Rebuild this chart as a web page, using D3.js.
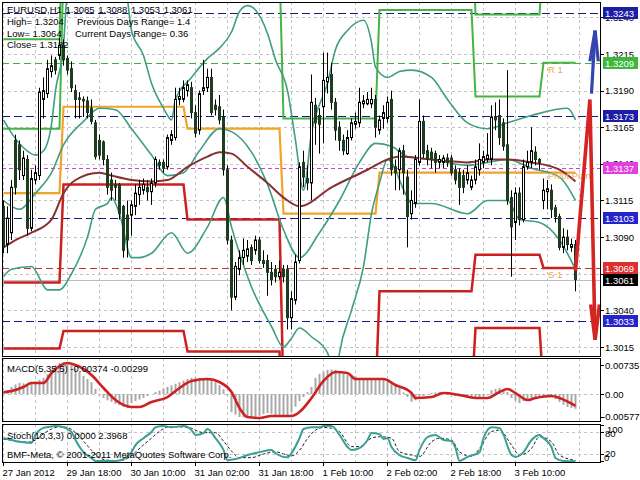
<!DOCTYPE html>
<html><head><meta charset="utf-8">
<script src="https://cdn.jsdelivr.net/npm/d3@7"></script>
<style>
body{margin:0;background:#fff}
svg{display:block}
text{font-family:"Liberation Sans",Arial,sans-serif;font-size:9.5px}
</style>
</head><body>
<svg id="c" width="640" height="480"></svg>
<script>
// ---------- DATA ----------
const opens=[1.3111,1.3085,1.3093,1.3156,1.3153,1.3132,1.3143,1.3096,1.3129,1.3132,
1.3184,1.3188,1.3203,1.3211,1.3214,1.3221,1.3212,1.3205,1.3190,1.3185,
1.3184,1.3183,1.3178,1.3168,1.3156,1.3155,1.3143,1.3129,1.3126,1.3126,
1.3111,1.3105,1.3105,1.3111,1.3119,1.3122,1.3124,1.3121,1.3127,1.3141,
1.3141,1.3138,1.3156,1.3158,1.3184,1.3184,1.3190,1.3192,1.3175,1.3163,
1.3190,1.3192,1.3199,1.3180,1.3179,1.3172,1.3136,1.3088,1.3049,1.3068,
1.3076,1.3077,1.3083,1.3081,1.3088,1.3074,1.3074,1.3066,1.3068,1.3063,
1.3068,1.3068,1.3035,1.3047,1.3074,1.3141,1.3130,1.3127,1.3180,1.3173,
1.3179,1.3196,1.3201,1.3182,1.3165,1.3156,1.3147,1.3158,1.3167,1.3168,
1.3181,1.3181,1.3181,1.3184,1.3163,1.3171,1.3171,1.3184,1.3138,1.3136,
1.3149,1.3131,1.3106,1.3113,1.3141,1.3169,1.3149,1.3148,1.3147,1.3141,
1.3141,1.3144,1.3144,1.3136,1.3134,1.3132,1.3129,1.3124,1.3129,1.3136,
1.3141,1.3143,1.3143,1.3172,1.3173,1.3168,1.3153,1.3117,1.3100,1.3120,
1.3102,1.3138,1.3141,1.3148,1.3143,1.3115,1.3121,1.3122,1.3110,1.3104,
1.3083,1.3090,1.3083,1.3085];
const highs=[1.3115,1.3111,1.3129,1.3160,1.3156,1.3149,1.3146,1.3136,1.3139,1.3192,
1.3199,1.3211,1.3214,1.3213,1.3226,1.3225,1.3214,1.3210,1.3194,1.3189,
1.3186,1.3186,1.3184,1.3170,1.3160,1.3156,1.3146,1.3134,1.3129,1.3127,
1.3112,1.3115,1.3115,1.3126,1.3129,1.3130,1.3129,1.3130,1.3145,1.3143,
1.3143,1.3160,1.3163,1.3192,1.3192,1.3197,1.3197,1.3196,1.3180,1.3190,
1.3211,1.3205,1.3205,1.3184,1.3187,1.3177,1.3139,1.3091,1.3073,1.3081,
1.3089,1.3088,1.3085,1.3091,1.3090,1.3081,1.3078,1.3073,1.3071,1.3074,
1.3071,1.3071,1.3053,1.3078,1.3141,1.3149,1.3139,1.3201,1.3185,1.3178,
1.3216,1.3216,1.3209,1.3185,1.3169,1.3160,1.3163,1.3171,1.3175,1.3192,
1.3187,1.3189,1.3192,1.3187,1.3173,1.3180,1.3186,1.3190,1.3143,1.3151,
1.3153,1.3136,1.3122,1.3146,1.3184,1.3173,1.3153,1.3151,1.3149,1.3146,
1.3146,1.3147,1.3146,1.3139,1.3137,1.3136,1.3139,1.3132,1.3143,1.3154,
1.3149,1.3161,1.3180,1.3182,1.3184,1.3171,1.3204,1.3122,1.3124,1.3124,
1.3143,1.3149,1.3165,1.3152,1.3144,1.3130,1.3129,1.3126,1.3112,1.3106,
1.3096,1.3095,1.3089,1.3088];
const lows=[1.3079,1.3079,1.3088,1.3119,1.3129,1.3129,1.3091,1.3094,1.3126,1.3129,
1.3171,1.3185,1.3199,1.3201,1.3211,1.3207,1.3201,1.3189,1.3171,1.3171,
1.3172,1.3171,1.3167,1.3143,1.3143,1.3139,1.3119,1.3115,1.3115,1.3102,
1.3076,1.3076,1.3091,1.3105,1.3112,1.3119,1.3115,1.3112,1.3124,1.3136,
1.3134,1.3136,1.3153,1.3156,1.3180,1.3182,1.3186,1.3171,1.3158,1.3160,
1.3187,1.3189,1.3173,1.3173,1.3167,1.3132,1.3085,1.3040,1.3047,1.3064,
1.3071,1.3073,1.3071,1.3078,1.3072,1.3069,1.3050,1.3057,1.3059,1.3061,
1.3059,1.3027,1.3027,1.3044,1.3072,1.3124,1.3122,1.3115,1.3153,1.3147,
1.3154,1.3188,1.3177,1.3156,1.3149,1.3146,1.3146,1.3156,1.3164,1.3165,
1.3178,1.3180,1.3178,1.3158,1.3160,1.3164,1.3168,1.3132,1.3122,1.3122,
1.3119,1.3083,1.3102,1.3110,1.3139,1.3144,1.3139,1.3137,1.3134,1.3137,
1.3137,1.3138,1.3132,1.3126,1.3112,1.3120,1.3126,1.3122,1.3126,1.3132,
1.3137,1.3141,1.3139,1.3163,1.3153,1.3149,1.3112,1.3063,1.3088,1.3098,
1.3100,1.3136,1.3137,1.3139,1.3136,1.3109,1.3109,1.3103,1.3100,1.3081,
1.3079,1.3081,1.3080,1.3053];
const closes=[1.3083,1.3103,1.3124,1.3124,1.3136,1.3144,1.3096,1.3130,1.3134,1.3189,
1.3190,1.3205,1.3207,1.3204,1.3221,1.3211,1.3204,1.3192,1.3184,1.3184,
1.3183,1.3175,1.3169,1.3145,1.3146,1.3143,1.3124,1.3122,1.3124,1.3106,
1.3081,1.3088,1.3112,1.3120,1.3124,1.3126,1.3121,1.3127,1.3143,1.3139,
1.3137,1.3158,1.3160,1.3184,1.3186,1.3192,1.3194,1.3175,1.3161,1.3188,
1.3192,1.3199,1.3175,1.3177,1.3170,1.3136,1.3088,1.3049,1.3070,1.3076,
1.3081,1.3082,1.3074,1.3088,1.3074,1.3072,1.3066,1.3061,1.3063,1.3066,
1.3063,1.3035,1.3048,1.3073,1.3138,1.3131,1.3127,1.3182,1.3168,1.3167,
1.3197,1.3199,1.3182,1.3163,1.3156,1.3149,1.3158,1.3168,1.3169,1.3182,
1.3183,1.3184,1.3184,1.3165,1.3170,1.3175,1.3182,1.3136,1.3134,1.3149,
1.3134,1.3104,1.3115,1.3143,1.3169,1.3147,1.3143,1.3143,1.3141,1.3143,
1.3144,1.3141,1.3134,1.3129,1.3124,1.3124,1.3134,1.3129,1.3138,1.3143,
1.3145,1.3146,1.3172,1.3170,1.3158,1.3152,1.3115,1.3097,1.3120,1.3102,
1.3138,1.3141,1.3149,1.3143,1.3141,1.3122,1.3123,1.3109,1.3104,1.3083,
1.3090,1.3085,1.3085,1.3061];

// Bollinger bands & moving average, read at sample bars [bar, price]
const bbUpper=[[0,1.3170],[2,1.3161],[5,1.3151],[8,1.3146],[10,1.3149],[12,1.3167],[13,1.3190],[15,1.3221],[16,1.3259],[20,1.3290],[25,1.3300],[29,1.3275],[31,1.3252],[32,1.3231],[35,1.3214],[37,1.3195],[40,1.3178],[42,1.3170],[43,1.3184],[47,1.3199],[51,1.3212],[54,1.3219],[57,1.3230],[59,1.3244],[61,1.3248],[63,1.3245],[66,1.3229],[68,1.3211],[71,1.3190],[73,1.3156],[75,1.3122],[77,1.3161],[81,1.3195],[83,1.3218],[86,1.3231],[90,1.3238],[92,1.3223],[93,1.3206],[96,1.3199],[99,1.3203],[102,1.3204],[107,1.3199],[111,1.3184],[116,1.3168],[121,1.3164],[126,1.3168],[132,1.3173],[141,1.3178],[143,1.3170]];
const bbMiddle=[[0,1.3115],[4,1.3109],[8,1.3120],[12,1.3134],[15,1.3153],[20,1.3169],[24,1.3178],[28,1.3177],[32,1.3164],[37,1.3146],[41,1.3132],[45,1.3134],[49,1.3149],[54,1.3164],[57,1.3162],[62,1.3148],[66,1.3126],[70,1.3095],[74,1.3076],[79,1.3093],[84,1.3115],[89,1.3141],[93,1.3154],[97,1.3152],[101,1.3145],[107,1.3143],[116,1.3139],[121,1.3141],[126,1.3143],[132,1.3137],[139,1.3131],[143,1.3115]];
const bbLower=[[0,1.3063],[2,1.3068],[7,1.3070],[11,1.3054],[14,1.3054],[17,1.3065],[21,1.3090],[23,1.3109],[26,1.3113],[27,1.3117],[29,1.3106],[32,1.3076],[34,1.3076],[37,1.3079],[42,1.3093],[46,1.3079],[51,1.3097],[55,1.3117],[57,1.3097],[62,1.3056],[67,1.3029],[70,1.3015],[72,1.3021],[74,1.3028],[77,1.3022],[81,1.3011],[83,1.2992],[84,1.3011],[87,1.3040],[90,1.3070],[92,1.3106],[94,1.3127],[96,1.3143],[101,1.3117],[102,1.3113],[107,1.3113],[116,1.3106],[121,1.3115],[126,1.3115],[129,1.3102],[134,1.3100],[139,1.3088],[143,1.3068]];
const maLine=[[0,1.3083],[3,1.3088],[7,1.3093],[12,1.3102],[15,1.3120],[18,1.3129],[24,1.3134],[27,1.3132],[32,1.3129],[37,1.3128],[41,1.3129],[46,1.3138],[51,1.3145],[54,1.3148],[57,1.3147],[61,1.3138],[66,1.3127],[70,1.3117],[74,1.3111],[82,1.3124],[91,1.3136],[96,1.3143],[99,1.3145],[107,1.3143],[116,1.3141],[121,1.3143],[126,1.3143],[132,1.3141],[139,1.3136],[143,1.3128]];

// Daily pivot levels (first bar of each day)
const dayStart=[0,15,46,70,94,118,135,144];
const pivotP=[1.3120,1.3179,1.3164,1.3106,1.3134,1.3134,1.3134];
const pivotR1=[1.3164,1.3275,1.3275,1.3171,1.3245,1.3186,1.3209];
const pivotR2=[1.3225,1.3330,1.3330,1.3280,1.3320,1.3242,1.3280];
const pivotS1=[1.3059,1.3126,1.3102,1.2980,1.3053,1.3078,1.3069];
const pivotS2=[1.3014,1.3026,1.3012,1.2940,1.2980,1.3028,1.2985];

// Horizontal level lines
const navyLevels=[1.3243,1.3173,1.3103,1.3033];
const r1Level=1.3209, pivotLevel=1.3137, s1Level=1.3069, bidLevel=1.3061;

// Arrows drawn on chart [bar, price]
const redArrow=[[143,1.3067],[146.6,1.3184],[147.9,1.3020]];
const redHead=[[146.8,1.3044],[147.9,1.3020],[149.0,1.3044]];
const blueArrow=[[147.0,1.3188],[147.9,1.3231]];
const blueHead=[[146.6,1.3210],[147.9,1.3231],[148.7,1.3210]];

// MACD(5,35,5)
const macdMain=[0.0005,0.0010,0.0018,0.0024,0.0028,0.0027,0.0026,0.0030,0.0032,0.0036,
0.0041,0.0050,0.0061,0.0073,0.0079,0.0081,0.0078,0.0073,0.0065,0.0056,
0.0046,0.0038,0.0030,0.0013,-0.0003,-0.0010,-0.0016,-0.0020,-0.0025,-0.0028,
-0.0033,-0.0035,-0.0023,-0.0018,-0.0014,-0.0010,-0.0005,0.0000,0.0005,0.0009,
0.0014,0.0018,0.0022,0.0026,0.0030,0.0034,0.0038,0.0041,0.0042,0.0041,
0.0039,0.0037,0.0035,0.0030,0.0023,0.0012,-0.0003,-0.0046,-0.0052,-0.0058,
-0.0059,-0.0060,-0.0061,-0.0058,-0.0055,-0.0051,-0.0048,-0.0050,-0.0053,-0.0055,
-0.0057,-0.0058,-0.0046,-0.0032,-0.0018,-0.0008,0.0005,0.0018,0.0041,0.0051,
0.0056,0.0061,0.0062,0.0061,0.0053,0.0051,0.0049,0.0048,0.0045,0.0041,
0.0041,0.0041,0.0041,0.0040,0.0041,0.0038,0.0034,0.0030,0.0022,0.0015,
0.0004,-0.0008,-0.0020,-0.0016,-0.0010,-0.0005,-0.0001,0.0003,0.0004,0.0005,
0.0003,0.0000,-0.0003,-0.0005,-0.0006,-0.0007,-0.0008,-0.0009,-0.0010,-0.0008,
-0.0005,-0.0003,0.0010,0.0013,0.0015,0.0010,0.0005,-0.0010,-0.0017,-0.0023,
-0.0018,-0.0014,-0.0010,-0.0009,-0.0008,-0.0008,-0.0008,-0.0008,-0.0013,-0.0020,
-0.0027,-0.0033,-0.0035,-0.00374];
const macdSignal=[[0,0.00043],[2,0.00076],[5,0.00177],[7,0.00279],[10,0.00279],[12,0.00532],[16,0.00786],[18,0.00735],[22,0.00481],[25,0.00152],[28,-0.00152],[32,-0.00329],[34,-0.00329],[37,-0.00203],[41,-0.00076],[44,0.00152],[47,0.00329],[51,0.00380],[54,0.00304],[57,0.00051],[59,-0.00355],[61,-0.00583],[64,-0.00608],[67,-0.00558],[72,-0.00558],[74,-0.00456],[77,-0.00101],[80,0.00330],[83,0.00558],[86,0.00532],[88,0.00380],[92,0.00380],[95,0.00380],[98,0.00228],[102,0.00025],[103,-0.00101],[107,-0.00076],[110,0.00025],[114,-0.00025],[118,-0.00101],[121,-0.00101],[124,0.00051],[126,0.00127],[128,0.00025],[131,-0.00152],[133,-0.00101],[137,-0.00051],[139,-0.00101],[143,-0.00299]];

// Stochastic(10,3,3)
const stochMain=[[0,63],[2,58],[4,53],[7,50],[8,72],[10,91],[11,93],[13,96],[15,93],[17,80],[18,58],[20,25],[22,9],[23,1],[26,1],[28,1],[30,6],[32,25],[33,44],[35,63],[37,80],[38,93],[40,96],[42,93],[45,96],[47,85],[48,72],[50,77],[51,88],[53,63],[55,31],[56,3],[58,6],[61,17],[64,25],[67,31],[68,22],[71,11],[72,22],[74,63],[75,88],[77,93],[79,93],[80,96],[82,96],[84,72],[86,39],[87,31],[89,36],[91,58],[92,77],[94,74],[95,61],[96,63],[97,39],[99,17],[101,9],[103,3],[104,31],[106,66],[108,72],[110,58],[112,55],[113,36],[114,1],[116,12],[119,25],[120,63],[122,93],[124,91],[125,72],[127,17],[128,12],[130,25],[132,58],[134,72],[135,63],[137,39],[138,9],[140,1],[143,0]];
const stochSignal=[[0,60],[3,56],[6,52],[8,58],[10,75],[12,88],[14,94],[16,92],[18,78],[20,55],[22,30],[24,10],[26,3],[29,2],[31,8],[33,25],[35,45],[37,63],[39,82],[41,93],[44,94],[47,90],[49,80],[51,78],[53,78],[55,55],[57,28],[59,10],[62,10],[65,20],[68,26],[70,20],[72,15],[74,30],[76,62],[78,85],[80,92],[82,90],[84,81],[87,40],[89,40],[92,63],[94,67],[97,63],[99,26],[102,17],[104,13],[107,53],[109,63],[112,58],[114,26],[117,13],[119,35],[122,81],[124,85],[127,44],[129,17],[132,35],[134,67],[137,53],[139,17],[143,2.4]];

// Axis ticks
const priceTicks=[1.3240,1.3215,1.3190,1.3165,1.3140,1.3115,1.3090,1.3065,1.3040,1.3015];
const hiddenPriceTicks=[1.3065]; // fully covered by the price boxes
const macdTicks=[0.00735,0.00,-0.00577];
const macdTickLabels=["0.00735","0.00","-0.00577"];
const stochTicks=[100,80,20,0];
const timeTickBars=[0,16,32,48,64,80,96,112,128];
const timeTickLabels=["27 Jan 2012","29 Jan 18:00","30 Jan 10:00","31 Jan 02:00","31 Jan 18:00","1 Feb 10:00","2 Feb 02:00","2 Feb 18:00","3 Feb 10:00"];
const priceBoxes=[
 {v:1.3243,t:"1.3243",c:"#1d1da8"},
 {v:1.3209,t:"1.3209",c:"#3cb83c"},
 {v:1.3173,t:"1.3173",c:"#1d1da8"},
 {v:1.3137,t:"1.3137",c:"#e040e0"},
 {v:1.3103,t:"1.3103",c:"#2424cc"},
 {v:1.3069,t:"1.3069",c:"#dd3030"},
 {v:1.3061,t:"1.3061",c:"#000000"},
 {v:1.3033,t:"1.3033",c:"#2424cc"}];

// ---------- DRAW ----------
const svg=d3.select("#c");
const L=2,R=600;
const P={main:[2,356],macd:[358,421],sto:[424,462]};
const x=d3.scaleLinear().domain([0,1]).range([3.5,7.5]);
const y=d3.scaleLinear().domain([1.3015,1.3215]).range([347,54]);
const ym=d3.scaleLinear().domain([-0.00577,0.00735]).range([416.8,365]);
const ys=d3.scaleLinear().domain([0,100]).range([461.3,424.6]);

const defs=svg.append("defs");
Object.entries(P).forEach(([k,[t,b]])=>{
  defs.append("clipPath").attr("id","clip-"+k).append("rect")
   .attr("x",L).attr("y",t).attr("width",R-L).attr("height",b-t);
});
svg.append("rect").attr("width",640).attr("height",480).attr("fill","#fff");

const gMain=svg.append("g").attr("clip-path","url(#clip-main)");
const gMacd=svg.append("g").attr("clip-path","url(#clip-macd)");
const gSto=svg.append("g").attr("clip-path","url(#clip-sto)");

// vertical grid
const gridBars=d3.range(0,150,8);
[[gMain,P.main],[gMacd,P.macd],[gSto,P.sto]].forEach(([g,[t,b]])=>{
  g.selectAll(null).data(gridBars).join("line")
   .attr("x1",d=>x(d)).attr("x2",d=>x(d)).attr("y1",t).attr("y2",b)
   .attr("stroke","#c4c4c4").attr("stroke-dasharray","3,3");
});
// horizontal grid
gMain.selectAll(null).data(priceTicks).join("line")
 .attr("x1",L).attr("x2",R).attr("y1",d=>Math.round(y(d))+0.5).attr("y2",d=>Math.round(y(d))+0.5)
 .attr("stroke","#c4c4c4").attr("stroke-dasharray","3,3");
gMacd.append("line").attr("x1",L).attr("x2",R).attr("y1",Math.round(ym(0))+0.5).attr("y2",Math.round(ym(0))+0.5)
 .attr("stroke","#c4c4c4").attr("stroke-dasharray","3,3");
gSto.selectAll(null).data([80,20]).join("line")
 .attr("x1",L).attr("x2",R).attr("y1",d=>Math.round(ys(d))+0.5).attr("y2",d=>Math.round(ys(d))+0.5)
 .attr("stroke","#c4c4c4").attr("stroke-dasharray","3,3");

// header texts (under the drawings)
const hdr=[
 {t:"EURUSD,H1 1.3085 1.3088 1.3053 1.3061",x:7,y:13,s:"9.8px"},
 {t:"High= 1.3204",x:7,y:25},{t:"Previous Days Range= 1.4",x:77,y:25},
 {t:"Low= 1.3064",x:7,y:37},{t:"Current Days Range= 0.36",x:75,y:37},
 {t:"Close= 1.3182",x:7,y:48}];
svg.selectAll(null).data(hdr).join("text").attr("x",d=>d.x).attr("y",d=>d.y).text(d=>d.t)
 .attr("fill","#000").attr("font-size",d=>d.s||"9.5px").attr("word-spacing",d=>d.s?"1px":null);

// level lines
const hl=(v,col,dash,w)=>gMain.append("line").attr("x1",L).attr("x2",R)
  .attr("y1",Math.round(y(v))+0.5).attr("y2",Math.round(y(v))+0.5)
  .attr("stroke",col).attr("stroke-width",w||1).attr("stroke-dasharray",dash);
hl(bidLevel,"#bdbdbd",null);
navyLevels.forEach(v=>hl(v,"#1a1a80","8,4"));
hl(r1Level,"#44b044","7,4");
hl(pivotLevel,"#d040d0","4,3");
hl(s1Level,"#c83030","7,4");

// pivot step lines
function daySeries(levels){
  const pts=[];
  for(let d=0;d<levels.length;d++){
    for(let i=dayStart[d];i<dayStart[d+1];i++) pts.push([i,levels[d]]);
  }
  return pts;
}
const lineP=d3.line().x(d=>x(d[0])).y(d=>y(d[1]));
[[pivotR2,"#44b444",2],[pivotR1,"#44b444",2],[pivotP,"#f0a428",2.2],[pivotS1,"#cc2020",2.5],[pivotS2,"#cc2020",2.5]]
 .forEach(([lv,c,w])=>gMain.append("path").attr("d",lineP(daySeries(lv))).attr("fill","none").attr("stroke",c).attr("stroke-width",w));

// bands & MA
const lineC=d3.line().x(d=>x(d[0])).y(d=>y(d[1])).curve(d3.curveMonotoneX);
[[bbUpper,"#3f9e80",1.6],[bbMiddle,"#3f9e80",1.6],[bbLower,"#3f9e80",1.6],[maLine,"#883030",2]]
 .forEach(([s,c,w])=>gMain.append("path").attr("d",lineC(s)).attr("fill","none").attr("stroke",c).attr("stroke-width",w));

// candles
const idx=d3.range(opens.length);
gMain.selectAll(null).data(idx).join("line")
 .attr("x1",i=>x(i)).attr("x2",i=>x(i)).attr("y1",i=>y(highs[i])).attr("y2",i=>y(lows[i]))
 .attr("stroke","#000").attr("stroke-width",1);
gMain.selectAll(null).data(idx).join("rect")
 .attr("x",i=>x(i)-1).attr("width",2)
 .attr("y",i=>Math.min(y(opens[i]),y(closes[i])))
 .attr("height",i=>Math.max(1,Math.abs(y(opens[i])-y(closes[i]))))
 .attr("fill",i=>closes[i]>=opens[i]?"#fff":"#1e3c1e")
 .attr("stroke",i=>closes[i]>=opens[i]?"#000":"#1e3c1e").attr("stroke-width",1);

// level texts (below their lines)
const lbl=[{t:"R 1",v:r1Level},{t:"Pivot Point",v:pivotLevel},{t:"S 1",v:s1Level}];
gMain.selectAll(null).data(lbl).join("text").attr("x",548).attr("y",d=>y(d.v)+10.5)
 .text(d=>d.t).attr("fill","#e8a858").attr("font-size","10px");

// arrows
const lineA=d3.line().x(d=>x(d[0])).y(d=>y(d[1]));
svg.append("path").attr("d",lineA(blueArrow)).attr("fill","none").attr("stroke","#3444b0").attr("stroke-width",3.2);
svg.append("path").attr("d",lineA(blueHead)).attr("fill","none").attr("stroke","#3444b0").attr("stroke-width",3.2).attr("stroke-linejoin","miter");
svg.append("path").attr("d",lineA(redArrow)).attr("fill","none").attr("stroke","#d42424").attr("stroke-width",3.6).attr("stroke-linejoin","miter");
svg.append("path").attr("d",lineA(redHead)).attr("fill","none").attr("stroke","#d42424").attr("stroke-width",3.6);

// MACD
gMacd.selectAll(null).data(idx).join("line")
 .attr("x1",i=>x(i)).attr("x2",i=>x(i)).attr("y1",ym(0)).attr("y2",i=>ym(macdMain[i]))
 .attr("stroke","#a8a8a8").attr("stroke-width",2);
gMacd.append("path").attr("d",d3.line().x(d=>x(d[0])).y(d=>ym(d[1])).curve(d3.curveMonotoneX)(macdSignal))
 .attr("fill","none").attr("stroke","#cc2222").attr("stroke-width",2.6);
svg.append("text").attr("x",7).attr("y",372).text("MACD(5,35,5) -0.00374 -0.00299");

// Stochastic
gSto.append("path").attr("d",d3.line().x(d=>x(d[0])).y(d=>ys(d[1])).curve(d3.curveMonotoneX)(stochSignal))
 .attr("fill","none").attr("stroke","#222").attr("stroke-width",1).attr("stroke-dasharray","3,2");
gSto.append("path").attr("d",d3.line().x(d=>x(d[0])).y(d=>ys(d[1])).curve(d3.curveMonotoneX)(stochMain))
 .attr("fill","none").attr("stroke","#3aa096").attr("stroke-width",2);
svg.append("text").attr("x",7).attr("y",439).text("Stoch(10,3,3) 0.0000 2.3968");
svg.append("text").attr("x",7).attr("y",458).text("BMF-Meta, \u00a9 2001-2011 MetaQuotes Software Corp.");

// panel borders
Object.values(P).forEach(([t,b])=>{
  svg.append("rect").attr("x",L+0.5).attr("y",t+0.5).attr("width",R-L).attr("height",b-t)
   .attr("fill","none").attr("stroke","#000");
});

// right price axis
svg.selectAll(null).data(priceTicks).join("line")
 .attr("x1",R).attr("x2",R+4).attr("y1",d=>Math.round(y(d))+0.5).attr("y2",d=>Math.round(y(d))+0.5).attr("stroke","#000");
svg.selectAll(null).data(priceTicks.filter(v=>!hiddenPriceTicks.includes(v))).join("text")
 .attr("x",605).attr("y",d=>y(d)+3.5).text(d=>d.toFixed(4)).attr("fill","#000");
priceBoxes.forEach(b=>{
  const yy=Math.round(y(b.v));
  svg.append("rect").attr("x",603).attr("y",yy-6).attr("width",35).attr("height",12).attr("fill",b.c);
  svg.append("text").attr("x",605).attr("y",yy+3.5).text(b.t).attr("fill","#fff");
});
// MACD axis
svg.selectAll(null).data(macdTicks).join("line")
 .attr("x1",R).attr("x2",R+4).attr("y1",d=>Math.round(ym(d))+0.5).attr("y2",d=>Math.round(ym(d))+0.5).attr("stroke","#000");
svg.selectAll(null).data(macdTicks).join("text")
 .attr("x",(d,i)=>i==2?602:605).attr("y",d=>ym(d)+3.5).text((d,i)=>macdTickLabels[i]);
// Stoch axis
const stoY={100:429,80:433,20:453,0:457};
svg.selectAll(null).data(stochTicks).join("line")
 .attr("x1",R).attr("x2",R+4).attr("y1",d=>Math.round(ys(d))+0.5).attr("y2",d=>Math.round(ys(d))+0.5).attr("stroke","#000");
svg.selectAll(null).data(stochTicks).join("text")
 .attr("x",d=>d==100?607:(d==0?604:605)).attr("y",d=>stoY[d]+3.5).text(d=>d);

// time axis
svg.selectAll(null).data(timeTickBars).join("line")
 .attr("x1",d=>x(d)).attr("x2",d=>x(d)).attr("y1",462).attr("y2",466).attr("stroke","#000");
svg.selectAll(null).data(timeTickBars).join("text")
 .attr("x",d=>x(d)-1).attr("y",476).text((d,i)=>timeTickLabels[i]);
</script>
</body></html>
